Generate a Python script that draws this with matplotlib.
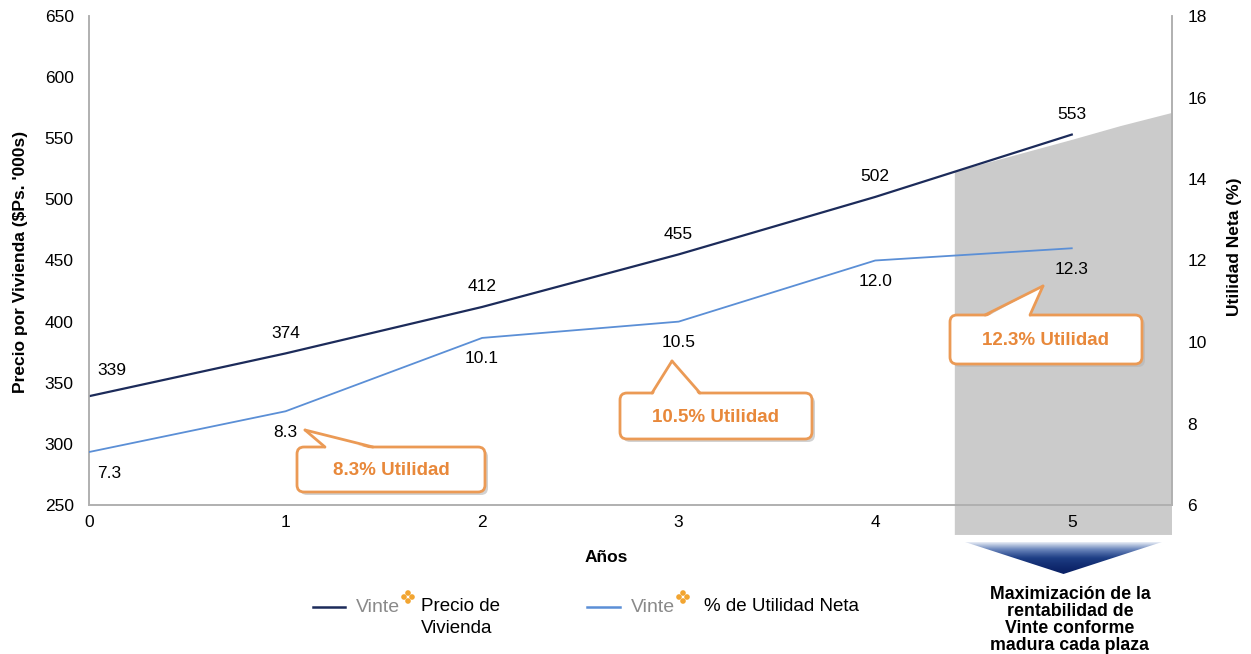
import numpy as np
import matplotlib
matplotlib.use("Agg")
import matplotlib.pyplot as plt
from matplotlib.patches import FancyBboxPatch, Polygon, Circle
from matplotlib.transforms import Affine2D
from matplotlib.colors import LinearSegmentedColormap

# ---- data ----
years = [0, 1, 2, 3, 4, 5]
precio = [339, 374, 412, 455, 502, 553]
utilidad = [7.3, 8.3, 10.1, 10.5, 12.0, 12.3]
callout_texts = ["8.3% Utilidad", "10.5% Utilidad", "12.3% Utilidad"]
shade_x = [4.405, 5.0, 5.25, 5.51]
shade_top = [522.6, 548.6, 560.0, 570.7]
legend_labels = ["Precio de\nVivienda", "% de Utilidad Neta"]
note_text = "Maximización de la\nrentabilidad de\nVinte conforme\nmadura cada plaza"

W, H = 1251, 654
plt.rcParams['font.family'] = ['Liberation Sans', 'DejaVu Sans']
fig = plt.figure(figsize=(W / 100, H / 100), dpi=100)
PX = Affine2D().scale(1 / W, -1 / H).translate(0, 1) + fig.transFigure

ax = fig.add_axes([89 / W, 1 - 505 / H, (1172 - 89) / W, (505 - 16) / H])
ax2 = ax.twinx()

NAVY = '#1c2b5a'
LBLUE = '#5b8fd6'
ORANGE = '#e8883a'
EDGE = '#eb9a55'
GREY = '#8a8a8a'

ax.set_xlim(0, 5.51)
ax.set_ylim(250, 650)
ax2.set_ylim(6, 18)
ax.set_xticks(years)
ax.set_yticks(np.arange(250, 651, 50))
ax2.set_yticks(np.arange(6, 19, 2))

for a in (ax, ax2):
    a.spines['top'].set_visible(False)
    for s in ('left', 'right', 'bottom'):
        a.spines[s].set_color('#b0b0b0')
        a.spines[s].set_linewidth(1.2)
    a.tick_params(length=0, labelsize=12.5)
ax.tick_params(axis='y', pad=11)
ax.tick_params(axis='x', pad=7)
ax2.tick_params(axis='y', pad=11)

# grey shaded region (extends below the axis)
bottom_val = 225.5
poly_pts = [(shade_x[0], bottom_val)] + list(zip(shade_x, shade_top)) + [(shade_x[-1], bottom_val)]
shade = Polygon(poly_pts, closed=True, facecolor='#cbcbcb', edgecolor='none',
                zorder=0.5, clip_on=False)
ax.add_patch(shade)

# lines
ax.plot(years, precio, color=NAVY, lw=1.6, zorder=3)
ax2.plot(years, utilidad, color=LBLUE, lw=1.3, zorder=3)

# data labels
for i, (x, v) in enumerate(zip(years, precio)):
    dx = 23 if i == 0 else 0
    dy = 26 if i == 0 else 20
    ax.annotate(f"{v}", (x, v), xytext=(dx * 0.72, dy * 0.72), textcoords='offset points',
                ha='center', va='center', fontsize=12.5)
for i, (x, v) in enumerate(zip(years, utilidad)):
    dx = 20 if i == 0 else 0
    dy = -21
    ax2.annotate(f"{v:.1f}", (x, v), xytext=(dx * 0.72, dy * 0.72), textcoords='offset points',
                 ha='center', va='center', fontsize=12.5)

ax.set_xlabel("Años", fontsize=12.5, fontweight='bold')
ax.xaxis.set_label_coords(0.478, -0.092)
ax.set_ylabel("Precio por Vivienda ($Ps. '000s)", fontsize=12.5, fontweight='bold')
ax.yaxis.set_label_coords(-0.056, 0.498)
ax2.set_ylabel("Utilidad Neta (%)", fontsize=12.5, fontweight='bold')
ax2.yaxis.set_label_coords(1.051, 0.528)

# callouts (pixel geometry)
boxes = [(297, 447, 485, 492), (620, 393, 812, 439), (950, 315, 1142, 364)]
pointers = [((325, 447), (305, 430), (373, 447)),
            ((652, 393), (672, 361), (700, 393)),
            ((985, 315), (1043, 286), (1030, 315))]
for txt, (x0, y0, x1, y1), ptr in zip(callout_texts, boxes, pointers):
    shadow = FancyBboxPatch((x0 + 3, y0 + 3), x1 - x0, y1 - y0,
                            boxstyle="round,pad=0,rounding_size=7", transform=PX,
                            facecolor='#b5b5b5', edgecolor='none', alpha=0.6, zorder=4)
    box = FancyBboxPatch((x0, y0), x1 - x0, y1 - y0,
                         boxstyle="round,pad=0,rounding_size=7", transform=PX,
                         facecolor='white', edgecolor=EDGE, lw=2, zorder=5)
    fig.add_artist(shadow)
    fig.add_artist(box)
    (bx0, by0), tip, (bx1, by1) = ptr
    fill = Polygon([(bx0 + 1, by0 + 2), tip, (bx1 - 1, by1 + 2)], closed=True, transform=PX,
                   facecolor='white', edgecolor='none', zorder=6)
    fig.add_artist(fill)
    for p in ((bx0, by0), (bx1, by1)):
        fig.add_artist(plt.Line2D([p[0], tip[0]], [p[1], tip[1]], transform=PX,
                                  color=EDGE, lw=2, zorder=6.5, solid_capstyle='round'))
    fig.text((x0 + x1) / 2 / W, 1 - ((y0 + y1) / 2 + 1) / H, txt, ha='center', va='center',
             fontsize=13.5, fontweight='bold', color=ORANGE, zorder=7)

# gradient triangle
tri_ax = fig.add_axes([965 / W, 1 - 574 / H, (1162 - 965) / W, (574 - 542) / H])
tri_ax.set_axis_off()
grad = np.linspace(0, 1, 256).reshape(-1, 1) ** 1.6
cmap = LinearSegmentedColormap.from_list('g', ['#0b2266', '#1f3f86', '#6d88bd', '#e9eef6'])
im = tri_ax.imshow(grad, aspect='auto', cmap=cmap, extent=[0, 1, 0, 1], origin='lower')
tpoly = Polygon([(0, 1), (1, 1), (0.5, 0)], closed=True, transform=tri_ax.transData,
                facecolor='none', edgecolor='none')
tri_ax.add_patch(tpoly)
im.set_clip_path(tpoly)
tri_ax.set_xlim(0, 1)
tri_ax.set_ylim(0, 1)

fig.text(1070 / W, 1 - 620 / H, note_text, ha='center', va='center', fontsize=12.8,
         fontweight='bold', linespacing=1.0)

# legend (manual)
def logo(cx, cy):
    for ox, oy in [(0, -4), (-4, 0), (4, 0), (0, 4)]:
        fig.add_artist(Circle((cx + ox, cy + oy), 2.8, transform=PX, facecolor='#f2a531',
                              edgecolor='none', zorder=5))

leg_items = [(313, 345, NAVY, 356, 408, 421), (587, 620, LBLUE, 631, 683, 704)]
for (lx0, lx1, col, vx, lgx, tx), lab in zip(leg_items, legend_labels):
    fig.add_artist(plt.Line2D([lx0, lx1], [607, 607], transform=PX, color=col, lw=1.8))
    fig.text(vx / W, 1 - 607 / H, "Vinte", ha='left', va='center', fontsize=14,
             color=GREY, fontweight='medium')
    logo(lgx, 597)
    fig.text(tx / W, 1 - 598 / H, lab, ha='left', va='top', fontsize=13.5,
             linespacing=1.4)

fig.savefig("out.png", dpi=100)
